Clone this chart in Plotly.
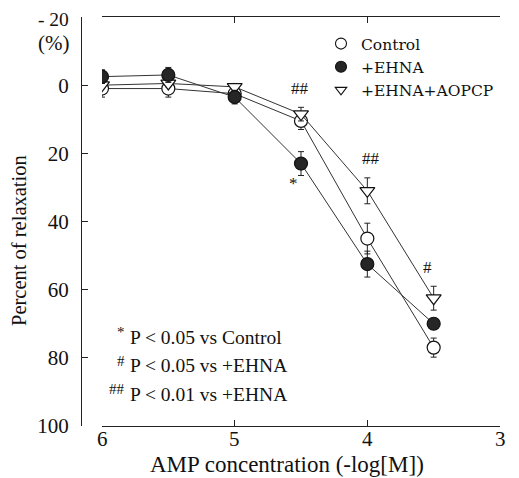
import plotly.graph_objects as go

# ---- data ----
log_conc = [6, 5.5, 5, 4.5, 4, 3.5]
control = [1, 1, 2.5, 10.5, 45, 77]
control_err = [2.5, 2.5, 2, 2.5, 4.5, 2.8]
ehna = [-2.5, -3, 3.5, 23, 52.5, 70]
ehna_err = [2, 2.2, 2, 3.5, 3.8, 1.5]
aopcp = [0, -0.5, 0.5, 8.5, 31, 62.5]
aopcp_err = [1, 1, 1, 2, 3.8, 3.5]

y_ticks = [-20, 0, 20, 40, 60, 80, 100]
y_ticktext = ["", "0", "20", "40", "60", "80", "100"]
y_top_label = "- 20"
x_ticks = [6, 5, 4, 3]
x_ticktext = ["6", "5", "4", "3"]

sig_x = [4.51, 4.56, 3.97, 3.55]
sig_y = [0.9, 28.8, 21.5, 53.5]
sig_text = ["##", "*", "##", "#"]

notes_sym = ["*", "#", "##"]
notes_text = ["P < 0.05 vs Control", "P < 0.05 vs +EHNA", "P < 0.01 vs +EHNA"]

FONT = "Liberation Serif"
LEG_FONT = "DejaVu Serif"
OFF = 8  # page body margin
WIN_W, WIN_H = 519, 478
W, H = WIN_W - OFF, WIN_H - OFF
# plot area in window pixels
PL, PR, PT, PB = 81, 518, 17, 426
L, T, B = PL - OFF, PT - OFF, WIN_H - PB
R = WIN_W - PR
PW, PH = PR - PL, PB - PT


def px_x(p):
    return (p - PL) / PW


def px_y(p):
    return (PB - p) / PH


fig = go.Figure()

series = [
    ("Control", control, control_err, "circle", "white"),
    ("+EHNA+AOPCP", aopcp, aopcp_err, "triangle-down", "white"),
    ("+EHNA", ehna, ehna_err, "circle", "#262626"),
]
for name, vals, errs, sym, fill in series:
    fig.add_trace(go.Scatter(
        x=log_conc, y=vals, mode="lines+markers", name=name, showlegend=False,
        line=dict(color="#333333", width=1),
        marker=dict(symbol=sym, size=13, color=fill, line=dict(color="#111111", width=1.2)),
        error_y=dict(type="data", array=errs, visible=True, color="#222222", thickness=1, width=3),
    ))

for name, sym, fill in [("Control", "circle", "white"), ("+EHNA", "circle", "#262626"),
                        ("+EHNA+AOPCP", "triangle-down", "white")]:
    fig.add_trace(go.Scatter(
        x=[None], y=[None], mode="markers", name=name, showlegend=True,
        marker=dict(symbol=sym, size=11 if sym == "circle" else 10, color=fill,
                    line=dict(color="#111111", width=1.1)),
    ))

dom0 = px_x(102)
dom1 = px_x(500)

fig.update_layout(
    width=W, height=H,
    margin=dict(l=L, r=R, t=T, b=B, autoexpand=False),
    paper_bgcolor="white", plot_bgcolor="white",
    font=dict(family=FONT, color="#111111", size=19),
    showlegend=True,
    legend=dict(x=px_x(321), y=px_y(27), xanchor="left", yanchor="top",
                bgcolor="rgba(0,0,0,0)", font=dict(family=LEG_FONT, size=15.5),
                tracegroupgap=0, itemsizing="trace"),
    xaxis=dict(range=[6, 3], domain=[dom0, dom1], tickvals=x_ticks,
               ticks="inside", ticklen=6, tickcolor="#222", showline=True,
               linecolor="#222", linewidth=1, showgrid=False, zeroline=False,
               showticklabels=False, anchor="y"),
    xaxis2=dict(range=[6, 3], domain=[dom0, dom1], tickvals=x_ticks, overlaying="x",
                side="top", ticks="inside", ticklen=6, tickcolor="#222", showline=True,
                linecolor="#222", linewidth=1, showgrid=False, zeroline=False,
                showticklabels=False, anchor="y"),
    yaxis=dict(range=[100, -20], tickvals=y_ticks, ticktext=y_ticktext,
               ticks="inside", ticklen=6, tickcolor="#222", showline=True,
               linecolor="#222", linewidth=1, showgrid=False, zeroline=False,
               tickfont=dict(family=FONT, size=21), anchor="free", position=0,
               ticklabelstandoff=8, ticklabeloverflow="allow"),
    yaxis2=dict(range=[100, -20], tickvals=y_ticks, overlaying="y", side="right",
                ticks="inside", ticklen=6, tickcolor="#555", showline=True,
                linecolor="#777", linewidth=1, showgrid=False, zeroline=False,
                showticklabels=False, anchor="free", position=1),
)

# dummy trace to activate the mirrored axes
fig.add_trace(go.Scatter(x=[None], y=[None], xaxis="x2", yaxis="y2", showlegend=False))

ann = []
for xv, xt in zip(x_ticks, x_ticktext):
    ann.append(dict(text=xt, x=xv, xref="x", y=px_y(439), yref="paper", showarrow=False,
                    font=dict(family=FONT, size=21), xanchor="center", yanchor="middle"))
ann.append(dict(text=y_top_label, xref="paper", yref="paper", x=px_x(71), y=px_y(19.5),
                showarrow=False, font=dict(family=FONT, size=19.5),
                xanchor="right", yanchor="middle"))
ann.append(dict(text="Percent of relaxation", xref="paper", yref="paper",
                x=px_x(19), y=px_y(241), textangle=-90, showarrow=False,
                font=dict(family=FONT, size=20.5), xanchor="center", yanchor="middle"))
ann.append(dict(text="AMP concentration (-log[M])", xref="paper", yref="paper",
                x=px_x(287), y=px_y(464), showarrow=False,
                font=dict(family=FONT, size=23), xanchor="center", yanchor="middle"))
ann.append(dict(text="(%)", xref="paper", yref="paper", x=px_x(71), y=px_y(43),
                showarrow=False, font=dict(family=FONT, size=21),
                xanchor="right", yanchor="middle"))
for sx, sy, st in zip(sig_x, sig_y, sig_text):
    ann.append(dict(text=st, x=sx, y=sy, xref="x", yref="y", showarrow=False,
                    font=dict(family=FONT, size=17), xanchor="center", yanchor="middle"))
for i, (s, t) in enumerate(zip(notes_sym, notes_text)):
    ypix = 337 + i * 28.5
    ann.append(dict(text=t, xref="paper", yref="paper", x=px_x(128), y=px_y(ypix),
                    showarrow=False, font=dict(family=FONT, size=19.5),
                    xanchor="left", yanchor="middle"))
    ann.append(dict(text=s, xref="paper", yref="paper", x=px_x(127), y=px_y(ypix - 5),
                    showarrow=False, font=dict(family=FONT, size=15),
                    xanchor="right", yanchor="middle"))
fig.update_layout(annotations=ann)

fig.write_html("out.html")
